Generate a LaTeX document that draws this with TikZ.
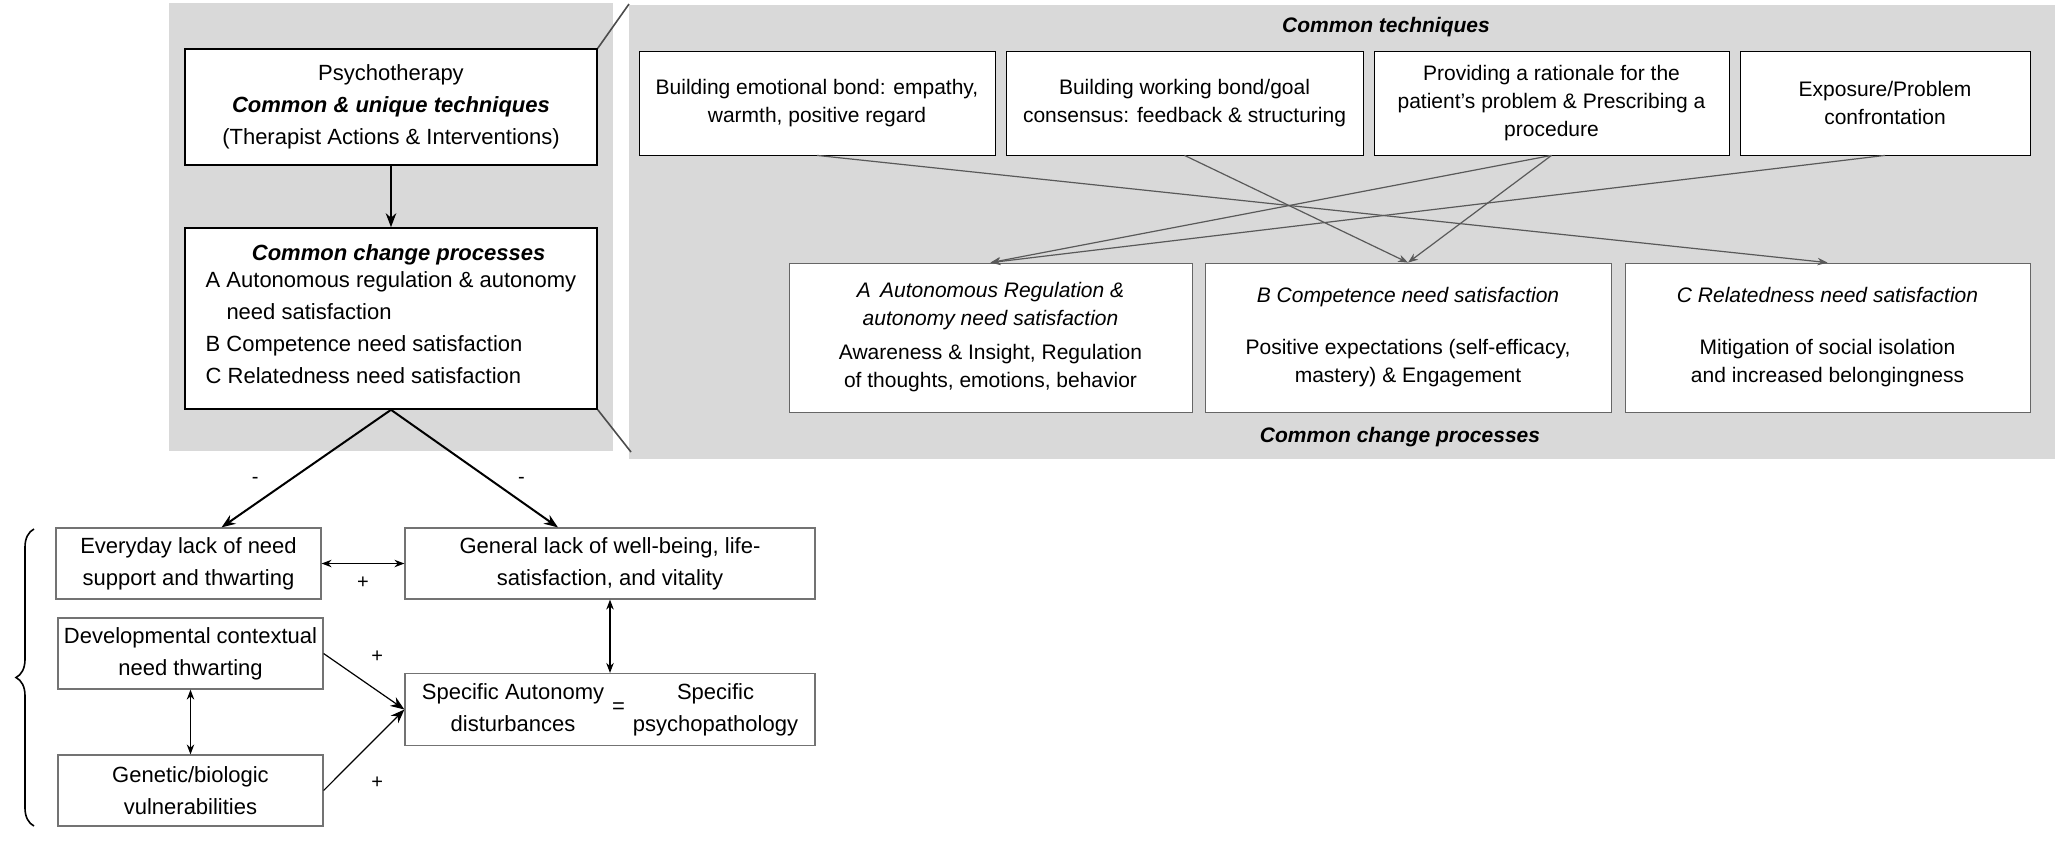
\documentclass[tikz,border=0pt]{standalone}
\usepackage{fontspec}
\setmainfont{Liberation Sans}
\usetikzlibrary{arrows.meta,positioning,decorations.pathreplacing}

\tikzset{
  box/.style={rectangle, draw, fill=white, align=center, inner sep=2pt, font=\fontsize{11}{16}\selectfont},
  lbox/.style={box, draw=black!55, line width=0.6pt},
  tbox/.style={rectangle, draw, fill=white, align=center, inner sep=2pt, font=\fontsize{10.5}{14}\selectfont},
  panel/.style={fill=black!15, draw=none},
  link/.style={-{Stealth[length=5pt]}, draw=black!65, line width=0.6pt},
  dlink/.style={{Stealth[length=5pt]}-{Stealth[length=5pt]}, line width=0.6pt},
}

\begin{document}
\begin{tikzpicture}[x=0.5pt, y=-0.5pt, >={Stealth[length=7pt]}]
				\useasboundingbox (0,0) rectangle (2055,843);
				\fill[panel] (169,3) rectangle (613,451);
				\fill[panel] (629,5) rectangle (2055,459);
				
				% left column
				\node[box, minimum width=206pt, minimum height=58pt, line width=0.8pt] (psy) at (391,107) {Psychotherapy\\ \textbf{\textit{Common \& unique techniques}}\\ (Therapist Actions \& Interventions)};
				\node[box, minimum width=206pt, minimum height=90.5pt, line width=0.8pt, align=left] (ccp) at (391,318.5) {\hspace*{2.1em}\textbf{\textit{Common change processes}}\\[-1pt]
					\begin{tabular}{@{}l@{ }l@{}}A & Autonomous regulation \& autonomy\\ & need satisfaction\\ \multicolumn{2}{@{}l}{B Competence need satisfaction}\\ \multicolumn{2}{@{}l}{C Relatedness need satisfaction}\end{tabular}};
				
				\node[lbox, minimum width=132.5pt, minimum height=35.5pt] (eday) at (188.5,563.5) {Everyday lack of need\\ support and thwarting};
				\node[lbox, minimum width=205pt, minimum height=35.5pt] (gen) at (610,563.5) {General lack of well-being, life-\\ satisfaction, and vitality};
				\node[lbox, minimum width=132.5pt, minimum height=35.5pt] (dev) at (190.5,653.5) {Developmental contextual\\ need thwarting};
				\node[lbox, minimum width=132.5pt, minimum height=35.5pt] (gbv) at (190.5,790.5) {Genetic/biologic\\ vulnerabilities};
				\node[lbox, minimum width=205pt, minimum height=35.5pt] (spec) at (610,709.5) {\begin{tabular}{@{}c@{\hspace{4pt}}c@{\hspace{4pt}}c@{}}Specific Autonomy & \smash{\raisebox{-7pt}{=}} & Specific\\ disturbances & & psychopathology\end{tabular}};
				
				\draw[->, line width=1pt] (psy) -- (ccp);
				\draw[->, line width=1pt] (ccp.south) -- node[left, xshift=-20pt, yshift=-6pt, draw=none] {-} ([xshift=16.5pt]eday.north);
				\draw[->, line width=1pt] (ccp.south) -- node[right, xshift=18pt, yshift=-6pt, draw=none] {-} ([xshift=-26pt]gen.north);
				\draw[dlink] (eday) -- node[below, yshift=-3pt] {+} (gen);
				\draw[dlink] (gen) -- (spec);
				\draw[dlink] (dev) -- (gbv);
				\draw[->, line width=0.6pt] (dev.east) -- node[above right, yshift=6pt] {+} (spec.west);
				\draw[->, line width=0.6pt] (gbv.east) -- node[below right, yshift=-10pt] {+} (spec.west);
				
				\coordinate (brtop) at (34,529);
				\coordinate (brbot) at (34,826);
				\draw[line width=0.8pt, decorate, decoration={brace, amplitude=9pt}] (brbot) -- (brtop);
				
				% zoom lines
				\coordinate (zt) at (629,4);
				\coordinate (zb) at (631,452);
				\draw[black!70, line width=0.8pt] (psy.north east) -- (zt);
				\draw[black!70, line width=0.8pt] (ccp.south east) -- (zb);
				
				% right panel
				\node[font=\fontsize{10.5}{13}\selectfont\bfseries\itshape] (ctt) at (1386,27) {Common techniques};
				\node[font=\fontsize{10.5}{13}\selectfont\bfseries\itshape] (cpt) at (1400,437) {Common change processes};
				
				\node[tbox, minimum width=178pt, minimum height=52pt] (emo) at (817,103) {Building emotional bond: empathy,\\ warmth, positive regard};
				\node[tbox, minimum width=178.5pt, minimum height=52pt] (work) at (1184.5,103) {Building working bond/goal\\ consensus: feedback \& structuring};
				\node[tbox, minimum width=177.5pt, minimum height=52pt] (rat) at (1551.5,103) {Providing a rationale for the\\ patient's problem \& Prescribing a\\ procedure};
				\node[tbox, minimum width=145pt, minimum height=52pt] (expo) at (1885,103) {Exposure/Problem\\ confrontation};
				
				\node[tbox, draw=black!60, minimum width=201.5pt, minimum height=74.5pt] (pa) at (990.5,337.5) {\textit{A\, Autonomous Regulation \&}\\ \textit{autonomy need satisfaction}\\[3pt] Awareness \& Insight, Regulation\\ of thoughts, emotions, behavior};
				\node[tbox, draw=black!60, minimum width=203pt, minimum height=74.5pt] (pb) at (1408,337.5) {\textit{B Competence need satisfaction}\\[12pt] Positive expectations (self-efficacy,\\ mastery) \& Engagement};
				\node[tbox, draw=black!60, minimum width=202.5pt, minimum height=74.5pt] (pc) at (1827.5,337.5) {\textit{C Relatedness need satisfaction}\\[12pt] Mitigation of social isolation\\ and increased belongingness};
				
				\draw[link] (emo.south) -- (pc.north);
				\draw[link] (work.south) -- (pb.north);
				\draw[link] (rat.south) -- (pa.north);
				\draw[link] (rat.south) -- (pb.north);
				\draw[link] (expo.south) -- (pa.north);
			\end{tikzpicture}
\end{document}
